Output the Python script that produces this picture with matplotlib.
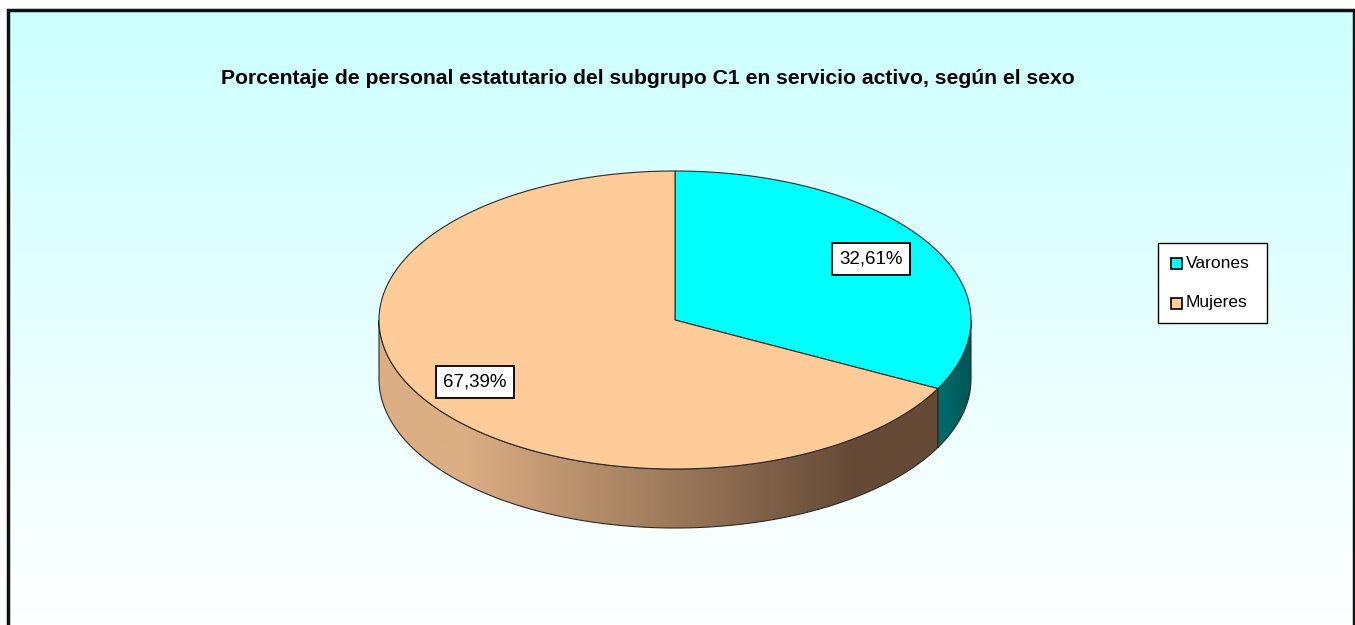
import numpy as np
import matplotlib
matplotlib.use("Agg")
import matplotlib.pyplot as plt
from matplotlib.patches import Polygon, Rectangle
from matplotlib.colors import LinearSegmentedColormap

plt.rcParams["font.family"] = ["Liberation Sans", "DejaVu Sans"]

categories = ["Varones", "Mujeres"]
shares = [32.61, 67.39]
labels = ["32,61%", "67,39%"]
title = "Porcentaje de personal estatutario del subgrupo C1 en servicio activo, según el sexo"

top_colors = ["#00ffff", "#ffcc99"]
side_colors = [("#006a6a", "#005858"), ("#dcae84", "#654a36")]

W, H = 1355, 625
fig = plt.figure(figsize=(W / 100, H / 100), dpi=100)
ax = fig.add_axes([0, 0, 1, 1])
ax.set_xlim(0, W)
ax.set_ylim(H, 0)
ax.axis("off")

# background gradient inside the frame
bg = LinearSegmentedColormap.from_list("bg", ["#ccffff", "#ffffff"])
grad = np.linspace(0, 1, 256).reshape(-1, 1)
ax.imshow(grad, cmap=bg, extent=(8, 1354, H, 10), aspect="auto", zorder=0)
ax.plot([8, 8, 1354, 1354], [H, 10, 10, H], color="#111111", lw=2.5, zorder=1,
        solid_joinstyle="miter")

ax.text(648, 78, title, ha="center", va="center", fontsize=15.2, fontweight="bold", zorder=5)

# pie geometry (pixels)
cx, cy, a, b, depth = 675, 320, 296, 149, 59


def ell(t, dy=0.0):
    return np.column_stack([cx + a * np.cos(t), cy - b * np.sin(t) + dy])


fracs = np.array(shares) / sum(shares)
starts = [np.pi / 2]
for f in fracs:
    starts.append(starts[-1] - f * 2 * np.pi)

edge = dict(edgecolor="#2a2a2a", linewidth=0.8)

# side walls (front half only)
for i in range(len(shares)):
    lo_n, hi_n = starts[i + 1], starts[i]
    segs = []
    for s0, s1 in [(lo_n, hi_n), (lo_n + 2 * np.pi, hi_n + 2 * np.pi)]:
        a0, a1 = max(s0, -np.pi), min(s1, 0.0)
        if a1 > a0:
            segs.append((a0, a1))
    for a0, a1 in segs:
        t = np.linspace(a0, a1, 200)
        pts = np.vstack([ell(t), ell(t[::-1], depth)])
        ax.add_patch(Polygon(pts, closed=True, facecolor="none", zorder=3, **edge))
        c0, c1 = side_colors[i]
        cm = LinearSegmentedColormap.from_list("s%d" % i, [(0, c0), (0.15, c0), (0.85, c1), (1, c1)])
        x0, x1 = pts[:, 0].min(), pts[:, 0].max()
        img = ax.imshow(np.linspace(0, 1, 256).reshape(1, -1), cmap=cm,
                        extent=(x0, x1, cy + b + depth + 2, cy - 2), aspect="auto", zorder=2)
        img.set_clip_path(Polygon(pts, closed=True, transform=ax.transData))

# top faces
for i in range(len(shares)):
    t = np.linspace(starts[i], starts[i + 1], 300)
    pts = np.vstack([[cx, cy], ell(t)])
    ax.add_patch(Polygon(pts, closed=True, facecolor=top_colors[i], zorder=4, **edge))

# data labels
label_pos = [(871, 259), (475, 382)]
for (lx, ly), txt in zip(label_pos, labels):
    ax.text(lx, ly, txt, ha="center", va="center", fontsize=13.5, zorder=6,
            bbox=dict(boxstyle="square,pad=0.4", facecolor="white", edgecolor="black", linewidth=1.3))

# legend
ax.add_patch(Rectangle((1158, 243), 109, 80, facecolor="white", edgecolor="black", lw=1.0, zorder=5))
for k, name in enumerate(categories):
    yy = 263 + 40 * k
    ax.add_patch(Rectangle((1171, yy - 5), 11, 11, facecolor=top_colors[k], edgecolor="black", lw=1.2, zorder=6))
    ax.text(1186, yy, name, ha="left", va="center", fontsize=12.5, zorder=6)

fig.savefig("out.png", dpi=100, facecolor="white")
